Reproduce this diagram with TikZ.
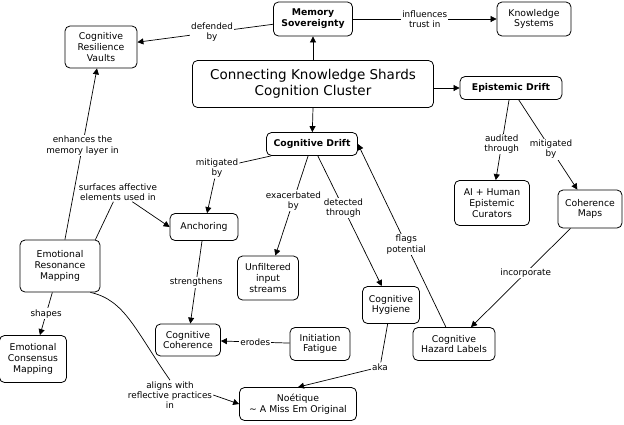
\documentclass[tikz,border=0pt]{standalone}
\usepackage{fontspec}
\setmainfont{DejaVu Sans}
\usetikzlibrary{arrows.meta}
\begin{document}
\begin{tikzpicture}[x=1pt,y=-1pt,
  box/.style={draw,rounded corners=5pt,align=center,font=\fontsize{9.3}{10.8}\selectfont,inner sep=2pt,fill=white,line width=0.8pt},
  lab/.style={fill=white,align=center,font=\fontsize{8.8}{10.3}\selectfont,inner sep=1pt},
  arr/.style={-{Triangle[length=6pt,width=6pt]},line width=0.7pt},
  ln/.style={line width=0.7pt}]
\useasboundingbox (0,0) rectangle (624,424);
\node[box,font=\bfseries\fontsize{9.3}{10.8}\selectfont,minimum width=79pt,minimum height=34pt] (mem) at (313,19) {Memory\\Sovereignty};
\node[box,minimum width=74pt,minimum height=34pt] (ks) at (534,19) {Knowledge\\Systems};
\node[box,minimum width=72pt,minimum height=42pt] (crv) at (101,47) {Cognitive\\Resilience\\Vaults};
\node[box,font=\fontsize{13.5}{16.5}\selectfont,minimum width=241pt,minimum height=47pt] (t) at (313,84) {Connecting Knowledge Shards\\Cognition Cluster};
\node[box,font=\bfseries\fontsize{9.3}{10.8}\selectfont,minimum width=102pt,minimum height=23pt] (ed) at (511,88) {Epistemic Drift};
\node[box,font=\bfseries\fontsize{9.3}{10.8}\selectfont,minimum width=91pt,minimum height=23pt] (cd) at (312,144) {Cognitive Drift};
\node[box,minimum width=75pt,minimum height=45pt] (ai) at (492,203) {AI + Human\\Epistemic\\Curators};
\node[box,minimum width=64pt,minimum height=38pt] (cm) at (590,209) {Coherence\\Maps};
\node[box,minimum width=68pt,minimum height=27pt] (an) at (204,227) {Anchoring};
\node[box,minimum width=80pt,minimum height=52pt] (erm) at (60,266) {Emotional\\Resonance\\Mapping};
\node[box,minimum width=61pt,minimum height=44pt] (ui) at (268,278) {Unfiltered\\input\\streams};
\node[box,minimum width=57pt,minimum height=37pt] (ch) at (391,305) {Cognitive\\Hygiene};
\node[box,minimum width=65pt,minimum height=32pt] (cc) at (188,340) {Cognitive\\Coherence};
\node[box,minimum width=60pt,minimum height=33pt] (if) at (320,344) {Initiation\\Fatigue};
\node[box,minimum width=82pt,minimum height=33pt] (hl) at (454,344) {Cognitive\\Hazard Labels};
\node[box,minimum width=67pt,minimum height=47pt] (ecm) at (33,359) {Emotional\\Consensus\\Mapping};
\node[box,minimum width=117pt,minimum height=33pt] (no) at (298,404) {Noétique\\ \textasciitilde{} A Miss Em Original};
\node[lab] (sa) at (118,192) {surfaces affective\\elements used in};
\node[lab] (al) at (170,395) {aligns with\\reflective practices\\in};
\node[lab] (mb) at (217,168) {mitigated\\by};
\node[lab] (aka) at (380,367) {aka};

\draw[arr] (mem) -- node[lab,pos=0.45]{defended\\by} (crv);
\draw[arr] (mem) -- node[lab]{influences\\trust in} (ks);
\draw[arr] (t) -- (mem);
\draw[arr] (t.east|-ed) -- (ed);
\draw[arr] (t.south) -- (cd);
\draw[arr] (ed) -- node[lab,pos=0.55]{audited\\through} (ai);
\draw[arr] (ed) -- node[lab,pos=0.55]{mitigated\\by} (cm);
\draw[arr] (cm) -- node[lab,pos=0.45]{incorporate} (hl);
\draw[arr] (hl) -- node[lab,pos=0.45]{flags\\potential} (cd.east);
\draw[ln] (cd.south west) ++(5,0) -- (mb);
\draw[arr] (mb) -- (an);
\draw[arr] (cd) -- node[lab,pos=0.45]{exacerbated\\by} (ui);
\draw[arr] (cd) -- node[lab,pos=0.4]{detected\\through} (ch);
\draw[arr] (an) -- node[lab]{strengthens} (cc);
\draw[arr] (if) -- node[lab]{erodes} (cc);
\draw[ln] (ch) -- (aka);
\draw[arr] (aka) -- (no.north);
\draw[arr] (erm) -- node[lab,pos=0.55]{enhances the\\memory layer in} (crv);
\draw[ln] (erm.north east) ++(-5,0) -- (sa);
\draw[arr] (sa) -- (an.west);
\draw[arr] (erm) -- node[lab]{shapes} (ecm);
\draw[ln] (erm.south east) ++(-10,0) .. controls (125,300) and (135,330) .. (al.north);
\draw[arr] (al.east) -- (no.west);
\end{tikzpicture}
\end{document}
